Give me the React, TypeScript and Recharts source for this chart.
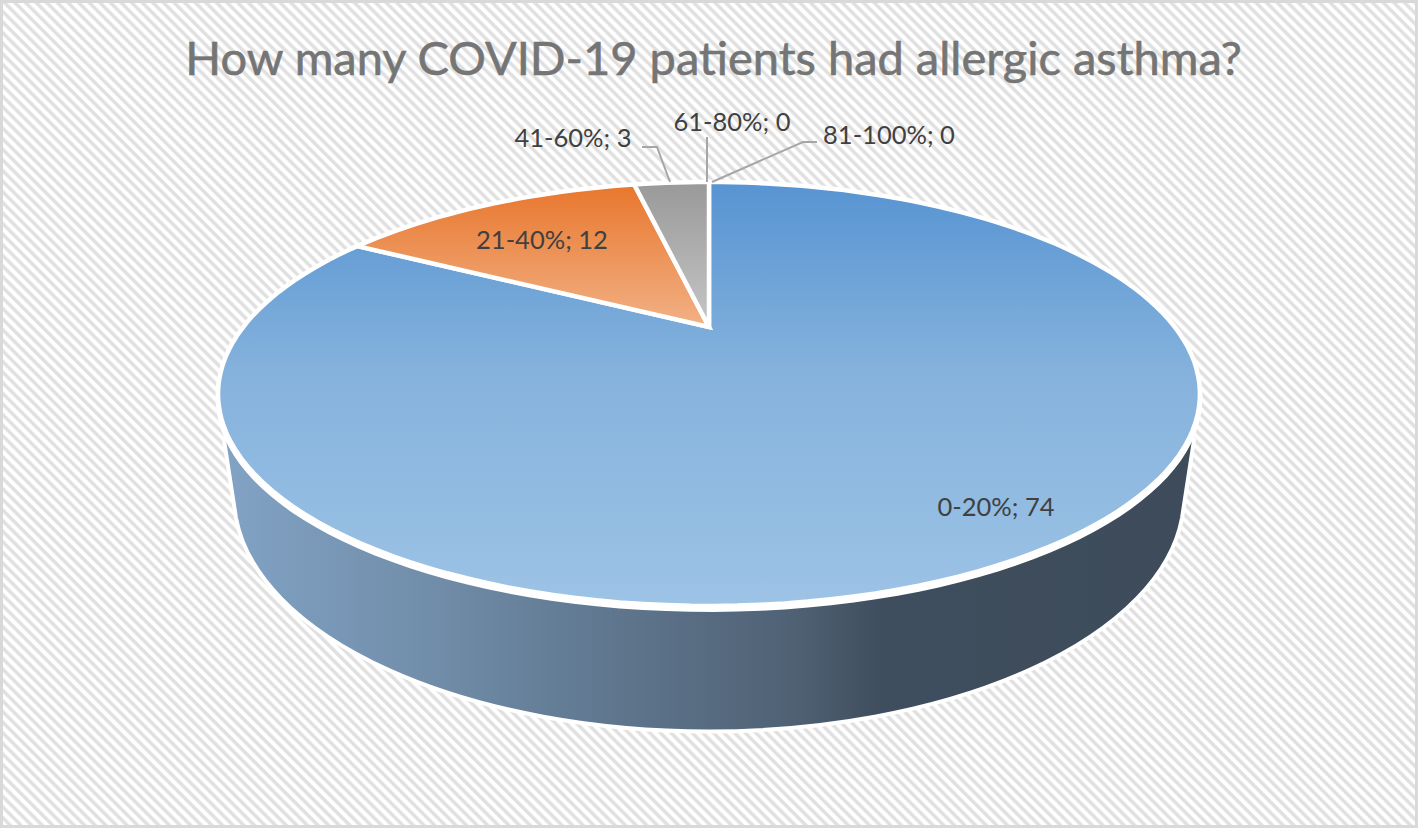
import React from 'react';
import { PieChart, Pie } from 'recharts';

const TITLE = 'How many COVID-19 patients had allergic asthma?';
const categories = ['0-20%', '21-40%', '41-60%', '61-80%', '81-100%'];
const patients = [74, 12, 3, 0, 0];

const tableData = categories.map((name, i) => ({ name, value: patients[i] }));

const topGradients = ['blueTop', 'orangeTop', 'greyTop', 'greyTop', 'greyTop'];
const labelCenters = [
  [996, 516],
  [542, 249],
  [573, 147],
  [732, 131],
  [889, 144],
];
const leaderLines = [
  null,
  null,
  [[642, 147], [657, 147], [670, 182]],
  [[707, 137], [707, 182]],
  [[817, 142], [803, 142], [712, 182]],
];

// perspective of the top face, fitted to the reference
const PERSP = { a: 465.8, b: 190.8, k: 0.316 };
const APEX = { x: 709, y: 327 };

const project = (cx: number, cy: number, deg: number) => {
  const r = (deg * Math.PI) / 180;
  const w = 1 + PERSP.k * Math.sin(r);
  return [cx + (PERSP.a * Math.cos(r)) / w, cy - (PERSP.b * Math.sin(r)) / w];
};

const getIndex = (props: any) => categories.indexOf(props.name ?? props.payload?.name);

const TopSlice = (props: any) => {
  const { cx, cy, startAngle, endAngle } = props;
  if (startAngle === endAngle) return null;
  const steps = Math.max(4, Math.ceil(Math.abs(endAngle - startAngle) / 2));
  let d = `M${cx},${cy}`;
  for (let i = 0; i <= steps; i++) {
    const [x, y] = project(cx, cy, startAngle + ((endAngle - startAngle) * i) / steps);
    d += `L${x.toFixed(1)},${y.toFixed(1)}`;
  }
  d += 'Z';
  const idx = getIndex(props);
  return (
    <g>
      {/* thicker white rim along the front edge */}
      {idx === 0 && <path d={d} fill="#fff" stroke="#fff" strokeWidth={5} transform="translate(0,3.5)" />}
      <path
        d={d}
        fill={`url(#${topGradients[idx]})`}
        stroke="#fff"
        strokeWidth={4.5}
        strokeLinejoin="miter"
      />
    </g>
  );
};

// only the slice that crosses the front of the pie shows its side wall
const WallSlice = (props: any) => {
  const { startAngle, endAngle } = props;
  if (!(startAngle > -90 && endAngle < -90)) return null;
  return (
    <path
      d="M224,440 L236,518 A475,235 0 0 0 1182,518 L1194,440 Z"
      fill="url(#wallSide)"
      stroke="#fff"
      strokeWidth={4}
      strokeLinejoin="round"
    />
  );
};

const SliceLabel = (props: any) => {
  const i = getIndex(props);
  const [x, y] = labelCenters[i];
  return (
    <text x={x} y={y} textAnchor="middle" fontFamily="Lato" fontSize={25.5} fill="#404040">
      {`${categories[i]}; ${patients[i]}`}
    </text>
  );
};

const SliceLeader = (props: any) => {
  const pts = leaderLines[getIndex(props)];
  if (!pts) return <g />;
  return (
    <polyline
      points={pts.map((p) => p.join(',')).join(' ')}
      fill="none"
      stroke="#a6a6a6"
      strokeWidth={2}
    />
  );
};

export default function App() {
  return (
    <div
      style={{
        position: 'relative',
        width: 1418,
        height: 828,
        boxSizing: 'border-box',
        border: '3px solid #d9d9d9',
        background:
          'repeating-linear-gradient(45deg, #ffffff 0px, #ffffff 2.5px, #e0e0e0 4px, #e0e0e0 6px, #ffffff 7.5px)',
      }}
    >
      <style>{'body{margin:0}'}</style>
      <div style={{ position: 'absolute', left: -3, top: -3 }}>
        <PieChart width={1418} height={828} margin={{ top: 0, right: 0, bottom: 0, left: 0 }}>
          <defs>
            <linearGradient id="blueTop" gradientUnits="userSpaceOnUse" x1="0" y1="182" x2="0" y2="606">
              <stop offset="0" stopColor="#5794d2" />
              <stop offset="0.45" stopColor="#85b2dc" />
              <stop offset="1" stopColor="#9dc3e6" />
            </linearGradient>
            <linearGradient id="orangeTop" gradientUnits="userSpaceOnUse" x1="0" y1="185" x2="0" y2="327">
              <stop offset="0" stopColor="#e8772e" />
              <stop offset="1" stopColor="#f2b185" />
            </linearGradient>
            <linearGradient id="greyTop" gradientUnits="userSpaceOnUse" x1="0" y1="182" x2="0" y2="327">
              <stop offset="0" stopColor="#999999" />
              <stop offset="1" stopColor="#c6c6c6" />
            </linearGradient>
            <linearGradient id="wallSide" gradientUnits="userSpaceOnUse" x1="223" y1="0" x2="1194" y2="0">
              <stop offset="0" stopColor="#82a3c5" />
              <stop offset="0.223" stopColor="#708ca8" />
              <stop offset="0.388" stopColor="#607890" />
              <stop offset="0.594" stopColor="#4f6073" />
              <stop offset="0.677" stopColor="#3f4e5e" />
              <stop offset="1" stopColor="#3d4b5a" />
            </linearGradient>
          </defs>
          <text
            x={713.5}
            y={75}
            textAnchor="middle"
            fontFamily="Lato"
            fontSize={47}
            fill="#757575"
            stroke="#757575"
            strokeWidth={0.6}
          >
            {TITLE}
          </text>
          <Pie
            data={tableData}
            dataKey="value"
            nameKey="name"
            cx={APEX.x}
            cy={APEX.y}
            outerRadius={100}
            startAngle={90}
            endAngle={-270}
            isAnimationActive={false}
            shape={WallSlice}
            label={false}
            labelLine={false}
          />
          <Pie
            data={tableData}
            dataKey="value"
            nameKey="name"
            cx={APEX.x}
            cy={APEX.y}
            outerRadius={100}
            startAngle={90}
            endAngle={-270}
            isAnimationActive={false}
            shape={TopSlice}
            label={SliceLabel}
            labelLine={SliceLeader}
          />
        </PieChart>
      </div>
    </div>
  );
}
